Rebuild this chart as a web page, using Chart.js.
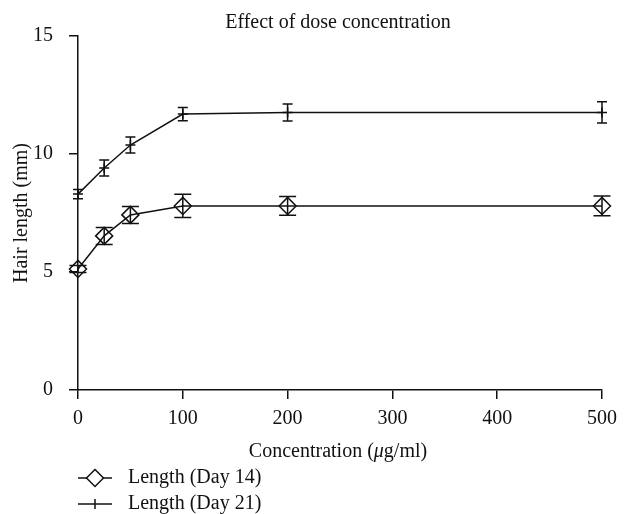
<!DOCTYPE html>
<html>
<head>
<meta charset="utf-8">
<script src="https://cdn.jsdelivr.net/npm/chart.js@4.4.0/dist/chart.umd.min.js"></script>
<style>
  html, body { margin: 0; padding: 0; background: #fff; }
</style>
</head>
<body>
<canvas id="doseChart" width="625" height="514"></canvas>
<script>
// values
const concentrations = [0, 25, 50, 100, 200, 500];
const day14Length = [5.13, 6.53, 7.42, 7.80, 7.80, 7.80];
const day14Error = [0.15, 0.36, 0.36, 0.49, 0.40, 0.42];
const day21Length = [8.3, 9.41, 10.38, 11.69, 11.76, 11.76];
const day21Error = [0.2, 0.34, 0.34, 0.28, 0.36, 0.45];
const xTicks = [0, 100, 200, 300, 400, 500];
const yTicks = [0, 5, 10, 15];
const seriesNames = ['Length (Day 14)', 'Length (Day 21)'];

const SERIF = "'Liberation Serif', 'DejaVu Serif', serif";
const INK = '#111';

function toPoints(xs, ys) {
    return xs.map((x, i) => ({ x: x, y: ys[i] }));
}

// error bars with caps, drawn through the chart scales
const errorBars = {
    id: 'errorBars',
    afterDatasetsDraw(chart) {
        const ctx = chart.ctx;
        const xs = chart.scales.x, ys = chart.scales.y;
        chart.data.datasets.forEach(ds => {
            ctx.save();
            ctx.strokeStyle = INK;
            ctx.lineWidth = 1.5;
            ds.values.forEach((v, i) => {
                const px = xs.getPixelForValue(concentrations[i]);
                const top = ys.getPixelForValue(v + ds.errors[i]);
                const bot = ys.getPixelForValue(v - ds.errors[i]);
                const w = ds.capHalf;
                ctx.beginPath();
                ctx.moveTo(px, top); ctx.lineTo(px, bot);
                ctx.moveTo(px - w, top); ctx.lineTo(px + w, top);
                ctx.moveTo(px - w, bot); ctx.lineTo(px + w, bot);
                ctx.stroke();
            });
            ctx.restore();
        });
    }
};

// title, axis titles and the legend under the x axis
const labels = {
    id: 'labels',
    afterDraw(chart) {
        const ctx = chart.ctx;
        const area = chart.chartArea;
        ctx.save();
        ctx.fillStyle = INK;
        ctx.textBaseline = 'middle';
        ctx.font = `20px ${SERIF}`;

        ctx.textAlign = 'center';
        ctx.fillText('Effect of dose concentration', 338, 23);

        // y title
        ctx.save();
        ctx.translate(22, (area.top + area.bottom) / 2);
        ctx.rotate(-Math.PI / 2);
        ctx.fillText('Hair length (mm)', 0, 0);
        ctx.restore();

        // x title with italic mu
        const a = 'Concentration (', b = '\u03bc', c = 'g/ml)';
        ctx.textAlign = 'left';
        const wa = ctx.measureText(a).width;
        const wc = ctx.measureText(c).width;
        ctx.font = `italic 20px ${SERIF}`;
        const wb = ctx.measureText(b).width;
        let x0 = 338 - (wa + wb + wc) / 2;
        const ty = 452;
        ctx.font = `20px ${SERIF}`;
        ctx.fillText(a, x0, ty);
        ctx.font = `italic 20px ${SERIF}`;
        ctx.fillText(b, x0 + wa, ty);
        ctx.font = `20px ${SERIF}`;
        ctx.fillText(c, x0 + wa + wb, ty);

        // legend
        const rows = [478, 504];
        ctx.strokeStyle = INK;
        ctx.lineWidth = 1.5;
        rows.forEach((ry, i) => {
            ctx.beginPath();
            ctx.moveTo(78, ry); ctx.lineTo(112, ry);
            ctx.stroke();
            ctx.beginPath();
            if (i === 0) {
                const r = 8.5;
                ctx.moveTo(95, ry - r); ctx.lineTo(95 + r, ry);
                ctx.lineTo(95, ry + r); ctx.lineTo(95 - r, ry);
                ctx.closePath();
                ctx.fillStyle = '#fff';
                ctx.fill();
            } else {
                ctx.moveTo(95, ry - 5); ctx.lineTo(95, ry + 5);
            }
            ctx.stroke();
            ctx.fillStyle = INK;
            ctx.fillText(seriesNames[i], 128, ry);
        });
        ctx.restore();
    }
};

const axisCommon = {
    border: { display: true, color: INK, width: 1.5 },
    grid: { drawOnChartArea: false, drawTicks: true, tickLength: 9, color: INK, lineWidth: 1.5 },
    ticks: { color: INK, font: { family: SERIF, size: 20 } }
};

new Chart(document.getElementById('doseChart'), {
    type: 'line',
    data: {
        datasets: [
            {
                label: seriesNames[0],
                data: toPoints(concentrations, day14Length),
                values: day14Length,
                errors: day14Error,
                capHalf: 8.5,
                borderColor: INK,
                borderWidth: 1.5,
                pointStyle: 'rectRot',
                pointRadius: 8.5,
                pointBorderWidth: 1.5,
                pointBorderColor: INK,
                pointBackgroundColor: 'rgba(0,0,0,0)',
                tension: 0,
                clip: false
            },
            {
                label: seriesNames[1],
                data: toPoints(concentrations, day21Length),
                values: day21Length,
                errors: day21Error,
                capHalf: 5,
                borderColor: INK,
                borderWidth: 1.5,
                pointStyle: 'cross',
                pointRadius: 5,
                pointBorderWidth: 1.5,
                pointBorderColor: INK,
                tension: 0,
                clip: false
            }
        ]
    },
    options: {
        responsive: false,
        animation: false,
        devicePixelRatio: 1,
        layout: { padding: { top: 36, right: 18, left: 0, bottom: 0 } },
        plugins: { legend: { display: false }, tooltip: { enabled: false } },
        scales: {
            x: {
                ...axisCommon,
                type: 'linear',
                min: 0,
                max: 500,
                afterBuildTicks: s => { s.ticks = xTicks.map(v => ({ value: v })); },
                ticks: { ...axisCommon.ticks, padding: 8, maxRotation: 0 },
                afterFit: s => { s.height = 124; }
            },
            y: {
                ...axisCommon,
                min: 0,
                max: 15,
                afterBuildTicks: s => { s.ticks = yTicks.map(v => ({ value: v })); },
                ticks: { ...axisCommon.ticks, padding: 16 },
                afterFit: s => { s.width = 78; }
            }
        }
    },
    plugins: [errorBars, labels]
});
</script>
</body>
</html>
